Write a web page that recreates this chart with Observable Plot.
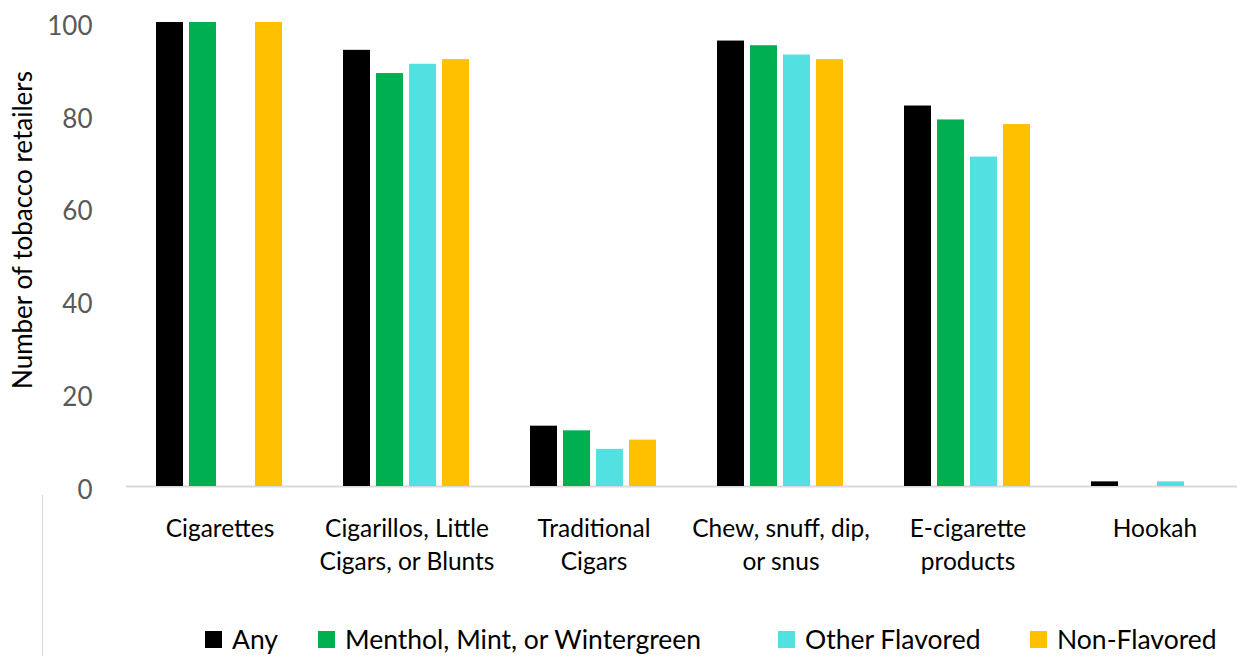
<!DOCTYPE html>
<html>
<head>
<meta charset="utf-8">
<script src="https://cdn.jsdelivr.net/npm/d3@7"></script>
<script src="https://cdn.jsdelivr.net/npm/@observablehq/plot@0.6"></script>
<style>
  html, body { margin: 0; padding: 0; background: #fff; }
  #chart { position: relative; width: 1237px; height: 656px; overflow: hidden; font-family: Lato, "Noto Sans", sans-serif; }
  #chart svg { display: block; }
  .edge { position: absolute; left: 42px; top: 495px; width: 1px; height: 161px; background: #d9d9d9; }
  .legend { position: absolute; top: 623px; left: 0; height: 32px; font-size: 26.5px; color: #000; }
  .legend .item { position: absolute; top: 0; display: flex; align-items: center; white-space: nowrap; height: 32px; }
  .legend .swatch { width: 17px; height: 17px; margin-right: 10px; }
</style>
</head>
<body>
<div id="chart"></div>
<script>
// Product categories (tick labels use line breaks as drawn under the axis)
const categories = [
  "Cigarettes",
  "Cigarillos, Little\nCigars, or Blunts",
  "Traditional\nCigars",
  "Chew, snuff, dip,\nor snus",
  "E-cigarette\nproducts",
  "Hookah"
];
const seriesNames = ["Any", "Menthol, Mint, or Wintergreen", "Other Flavored", "Non-Flavored"];
const seriesColors = ["#000000", "#00B050", "#52E0E0", "#FFC000"];

// Number of tobacco retailers selling each product, by flavor type
const anyValues           = [100, 94, 13, 96, 82, 1];
const mentholValues       = [100, 89, 12, 95, 79, null];
const otherFlavoredValues = [null, 91, 8, 93, 71, 1];
const nonFlavoredValues   = [100, 92, 10, 92, 78, null];

const yTicks = [0, 20, 40, 60, 80, 100];

const seriesValues = [anyValues, mentholValues, otherFlavoredValues, nonFlavoredValues];
const table = [];
categories.forEach((category, i) => {
  seriesNames.forEach((series, j) => {
    table.push({category, series, value: seriesValues[j][i]});
  });
});

const width = 1237;
const marginLeft = 125;
const groupWidth = 187.45;

const chart = Plot.plot({
  width,
  height: 610,
  marginLeft,
  marginRight: 0,
  marginTop: 22,
  marginBottom: 124,
  style: { fontFamily: "Lato, 'Noto Sans', sans-serif", fontSize: "26px", background: "#fff", color: "#000" },
  fx: { domain: categories, range: [marginLeft, marginLeft + groupWidth * categories.length], padding: 0, label: null },
  x: { domain: seriesNames, paddingInner: 0.1765, paddingOuter: 0.843, axis: null },
  y: { domain: [0, 100], axis: null },
  color: { domain: seriesNames, range: seriesColors },
  marks: [
    Plot.axisY(yTicks, { tickSize: 0, tickPadding: 34, dy: 4, fill: "#595959", fontSize: 26, label: null }),
    Plot.ruleY([0], { stroke: "#d9d9d9", strokeWidth: 2 }),
    Plot.barY(table.filter(d => d.value != null), { fx: "category", x: "series", y: "value", fill: "series" }),
    Plot.axisFx({ anchor: "bottom", tickSize: 0, tickPadding: 27, label: null, fontSize: 24.5, lineHeight: 1.347, fill: "#000" })
  ]
});

// Rotated y-axis title
d3.select(chart).append("text")
  .attr("transform", "translate(32,230) rotate(-90)")
  .attr("text-anchor", "middle")
  .attr("fill", "#000")
  .attr("font-size", 26)
  .attr("font-family", "Lato, 'Noto Sans', sans-serif")
  .text("Number of tobacco retailers");

const root = document.getElementById("chart");
root.appendChild(chart);

const edge = document.createElement("div");
edge.className = "edge";
root.appendChild(edge);

// Legend below the plot
const legend = d3.select(root).append("div").attr("class", "legend");
const legendLefts = [205, 318, 778, 1030];
seriesNames.forEach((name, i) => {
  const item = legend.append("div").attr("class", "item").style("left", legendLefts[i] + "px");
  item.append("div").attr("class", "swatch").style("background", seriesColors[i]);
  item.append("span").text(name);
});
</script>
</body>
</html>
